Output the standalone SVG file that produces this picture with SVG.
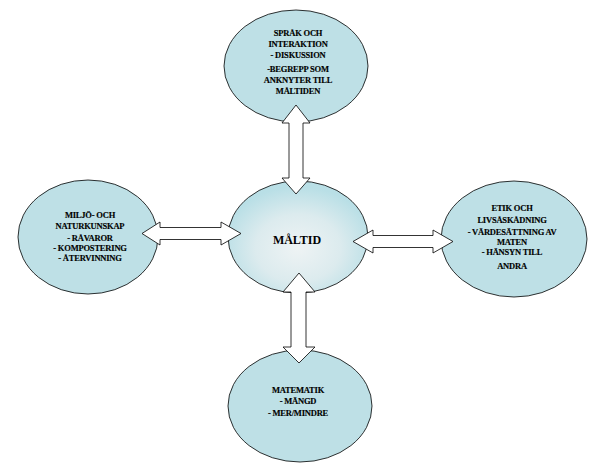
<svg xmlns="http://www.w3.org/2000/svg" width="595" height="474" viewBox="0 0 595 474">
<defs>
<radialGradient id="cg" cx="50%" cy="60%" r="55%">
<stop offset="0" stop-color="#eef3f4"/>
<stop offset="0.55" stop-color="#dcebee"/>
<stop offset="1" stop-color="#b9dfe6"/>
</radialGradient>
</defs>
<style>
.node{fill:#bee0e6;stroke:#000;stroke-width:0.8}
.center{fill:url(#cg);stroke:#000;stroke-width:0.8}
.arrow{fill:#fff;stroke:#000;stroke-width:0.8;stroke-linejoin:miter}
.t{font-family:"Liberation Serif",serif;font-weight:bold;font-size:8.5px;text-anchor:middle;fill:#000;letter-spacing:-0.2px;stroke:#000;stroke-width:0.15}
.tc{font-family:"Liberation Serif",serif;font-weight:bold;font-size:12px;text-anchor:middle;fill:#000}
</style>
<rect width="595" height="474" fill="#fff"/>
<g id="node-top">
<ellipse class="node" cx="296" cy="66" rx="72" ry="56"/>
<text class="t" x="298" y="36">SPRÅK OCH</text>
<text class="t" x="298" y="47">INTERAKTION</text>
<text class="t" x="298" y="58">- DISKUSSION</text>
<text class="t" x="298" y="72">-BEGREPP SOM</text>
<text class="t" x="298" y="83">ANKNYTER TILL</text>
<text class="t" x="298" y="94">MÅLTIDEN</text>
</g>
<g id="node-left">
<ellipse class="node" cx="88" cy="237" rx="70" ry="57"/>
<text class="t" x="90" y="218">MILJÖ- OCH</text>
<text class="t" x="90" y="229">NATURKUNSKAP</text>
<text class="t" x="90" y="241">- RÅVAROR</text>
<text class="t" x="90" y="251">- KOMPOSTERING</text>
<text class="t" x="90" y="261">- ÅTERVINNING</text>
</g>
<g id="node-right">
<ellipse class="node" cx="514" cy="239" rx="73" ry="58"/>
<text class="t" x="512" y="211">ETIK OCH</text>
<text class="t" x="512" y="223">LIVSÅSKÅDNING</text>
<text class="t" x="512" y="235">- VÄRDESÄTTNING AV</text>
<text class="t" x="512" y="245">MATEN</text>
<text class="t" x="512" y="255">- HÄNSYN TILL</text>
<text class="t" x="512" y="269">ANDRA</text>
</g>
<g id="node-bottom">
<ellipse class="node" cx="300" cy="406" rx="72" ry="56"/>
<text class="t" x="298" y="393">MATEMATIK</text>
<text class="t" x="298" y="404">- MÄNGD</text>
<text class="t" x="298" y="416">- MER/MINDRE</text>
</g>
<g id="node-center">
<ellipse class="center" cx="298" cy="237" rx="70" ry="56"/>
<text class="tc" x="297" y="244">MÅLTID</text>
</g>
<g id="connectors">
<polygon class="arrow" points="296,105 310,123 303,123 303,178 310,178 296,194 282,178 289,178 289,123 282,123"/>
<polygon class="arrow" points="299,273 315,292 306,292 306,347 315,347 299,363 283,347 291,347 291,292 283,292"/>
<polygon class="arrow" points="142,233.5 160,222 160,227.5 221,227.5 221,222 241,233.5 221,245 221,239.5 160,239.5 160,245"/>
<polygon class="arrow" points="353,241.5 373,230 373,235.5 433,235.5 433,230 453,241.5 433,253 433,247.5 373,247.5 373,253"/>
</g>
</svg>
